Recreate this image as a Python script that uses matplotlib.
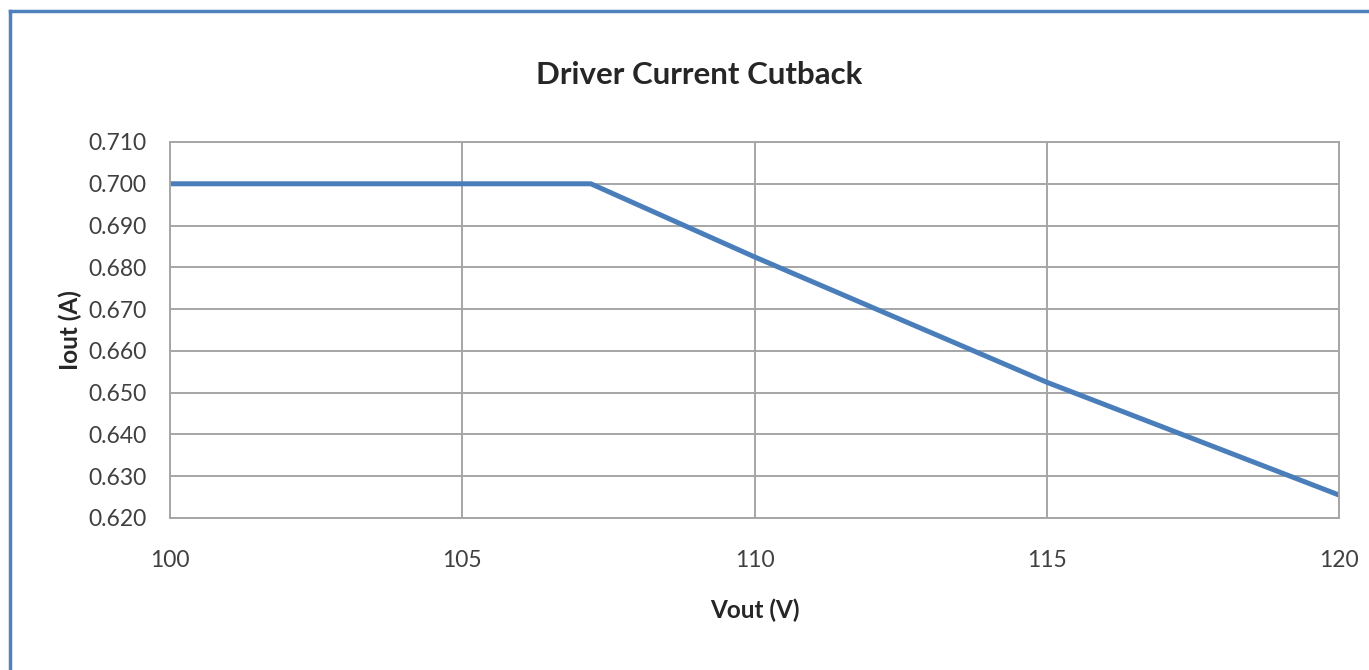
"""
Driver current cutback curve
"""

import matplotlib.pyplot as plt
from matplotlib.lines import Line2D

vout = [100, 105, 107.2, 110, 112.5, 115, 117.5, 120]
iout = [0.700, 0.700, 0.700, 0.6825, 0.6675, 0.6525, 0.6390, 0.6255]

x_ticks = [100, 105, 110, 115, 120]
y_ticks = [0.620, 0.630, 0.640, 0.650, 0.660, 0.670, 0.680, 0.690, 0.700, 0.710]

plt.rcParams['font.family'] = ['Lato', 'DejaVu Sans']

fig = plt.figure(figsize=(13.69, 6.70), dpi=100)
ax = fig.add_axes([170 / 1369, 1 - 518 / 670, 1169 / 1369, 376 / 670])

ax.plot(vout, iout, color='#4a7ebb', linewidth=3.6, solid_capstyle='butt')

ax.set_xlim(100, 120)
ax.set_ylim(0.620, 0.710)
ax.set_xticks(x_ticks)
ax.set_yticks(y_ticks)
ax.set_yticklabels([f'{v:.3f}' for v in y_ticks])
ax.grid(True, color='#a6a6a6', linewidth=1.4)
ax.set_axisbelow(True)
for s in ax.spines.values():
    s.set_color('#a6a6a6')
    s.set_linewidth(1.4)
ax.tick_params(axis='both', length=0, labelsize=16.5, colors='#404040')
ax.tick_params(axis='x', pad=23)
ax.tick_params(axis='y', pad=17)

ax.set_xlabel('Vout (V)', fontsize=17.5, fontweight='bold', color='#262626', labelpad=20)
ax.set_ylabel('Iout (A)', fontsize=17.5, fontweight='bold', color='#262626', labelpad=4)
fig.text(699 / 1369, 1 - 75 / 670, 'Driver Current Cutback', fontsize=22.5,
         fontweight='bold', color='#262626', ha='center', va='center')

# blue frame around the chart
fig.add_artist(Line2D([10 / 1369, 10 / 1369], [0, 1 - 11 / 670],
                      transform=fig.transFigure, color='#4f81bd', linewidth=2.5))
fig.add_artist(Line2D([10 / 1369, 1], [1 - 11 / 670, 1 - 11 / 670],
                      transform=fig.transFigure, color='#4f81bd', linewidth=2.5))

plt.savefig('out.png', dpi=100)
print('Plot is saved in out.png')
